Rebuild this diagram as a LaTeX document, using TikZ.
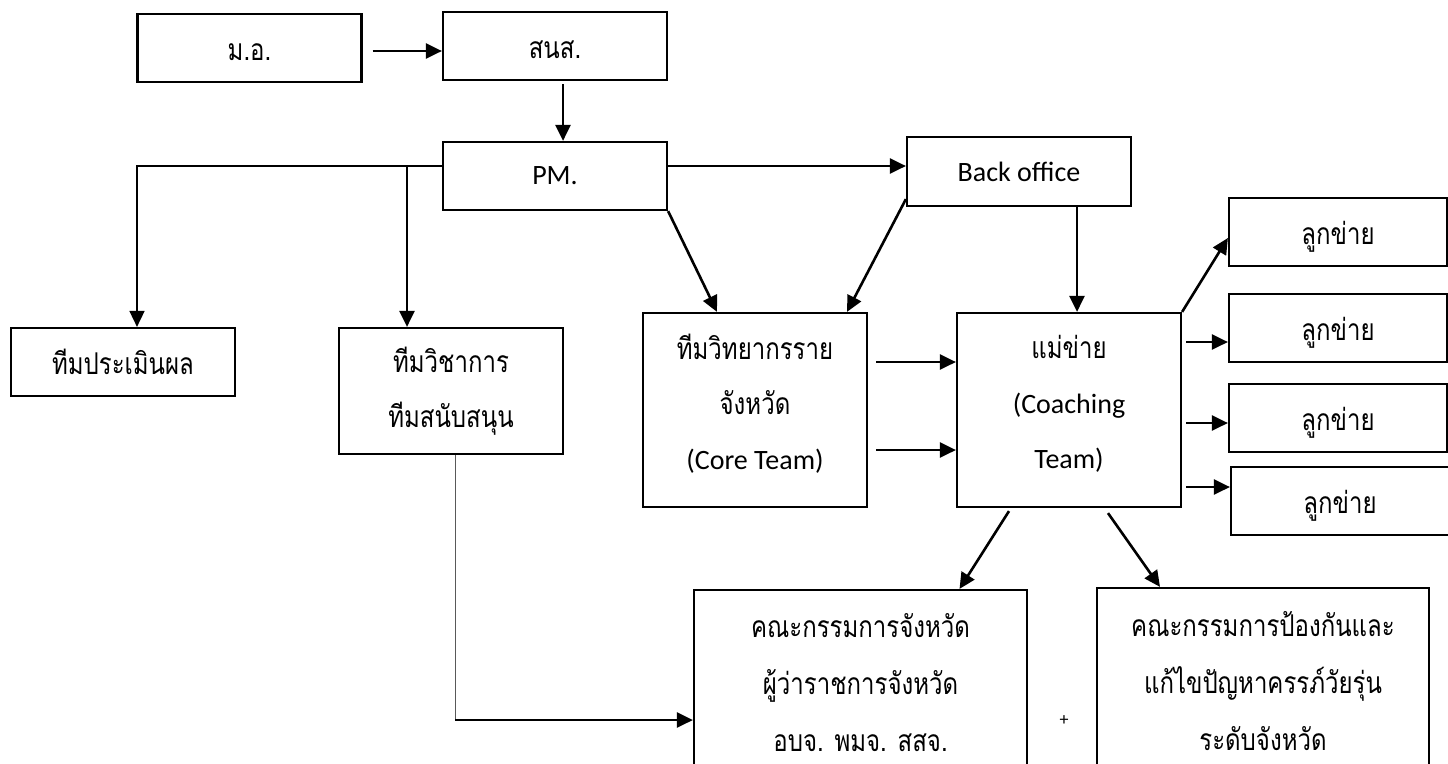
\documentclass[tikz,border=0pt]{standalone}
\usepackage{fontspec}
\setmainfont{Carlito}
\newfontfamily\thaifont[Script=Thai,FakeStretch=0.8]{Loma}
\usetikzlibrary{arrows.meta}

\begin{document}
\begin{tikzpicture}[x=1pt,y=-1pt,
    box/.style={draw,line width=2.2pt,minimum width=224pt,minimum height=68pt,inner sep=0pt,align=center,font=\fontsize{28}{55}\selectfont},
    thai/.style={font=\thaifont\fontsize{30}{55}\selectfont},
    thaione/.style={thai,text height=26pt,text depth=2pt},
    arr/.style={-{Triangle[length=16pt,width=15pt]},line width=2.6pt}]
        \useasboundingbox (0,0) rectangle (1448,763);
        \node[box,thaione] (mo) at (249.5,48) {ม.อ.};
        \node[box,thaione] (sns) at (555,46) {สนส.};
        \node[box] (pm) at (555,176) {PM.};
        \node[box,minimum height=69pt] (back) at (1019,171.5) {Back office};
        \node[box,thaione] (eval) at (123,362) {ทีมประเมินผล};
        \node[box,thai,minimum height=126pt] (acad) at (451,391) {ทีมวิชาการ\\ทีมสนับสนุน};
        \node[box,minimum height=194pt] (core) at (755,410) {{\thaifont\fontsize{30}{55}\selectfont ทีมวิทยากรราย}\\{\thaifont\fontsize{30}{55}\selectfont จังหวัด}\\(Core Team)\rule[-17pt]{0pt}{1pt}};
        \node[box,minimum height=194pt] (coach) at (1069,410) {{\thaifont\fontsize{30}{55}\selectfont แม่ข่าย}\\(Coaching\\Team)\rule[-17pt]{0pt}{1pt}};
        \node[box,thaione,minimum width=218pt] (sub1) at (1338,232) {ลูกข่าย};
        \node[box,thaione,minimum width=218pt] (sub2) at (1338,328) {ลูกข่าย};
        \node[box,thaione,minimum width=218pt] (sub3) at (1338,418) {ลูกข่าย};
        \node[box,thaione,minimum width=218pt] (sub4) at (1340,501) {ลูกข่าย};
        \node[box,minimum width=333pt,minimum height=186pt,font=\thaifont\fontsize{30}{57}\selectfont] (prov) at (860.5,683) {คณะกรรมการจังหวัด\\ผู้ว่าราชการจังหวัด\\อบจ. พมจ. สสจ.};
        \node[box,minimum width=332pt,minimum height=186pt,font=\thaifont\fontsize{30}{57}\selectfont] (prev) at (1263,681) {คณะกรรมการป้องกันและ\\แก้ไขปัญหาครรภ์วัยรุ่น\\ระดับจังหวัด};
        \node[font=\fontsize{18}{20}\selectfont] (plus) at (1064,721) {+};
        \draw[arr] ([xshift=10pt,yshift=-3pt]mo.east) -- ([yshift=-5pt]sns.west);
        \draw[arr] ([xshift=8pt,yshift=-3pt]sns.south) -- ([xshift=8pt]pm.north);
        \coordinate (split) at (407,166);
        \draw[arr,line width=1.7pt] ([yshift=10pt]pm.west) -| ([xshift=14pt]eval.north);
        \draw[arr] (split) -- (split |- acad.north);
        \draw[arr] ([yshift=10pt]pm.east) -- ([yshift=5.5pt]back.west);
        \draw[arr] (pm.south east) -- ([xshift=-38pt]core.north);
        \draw[arr] ([yshift=8pt]back.south west) -- ([xshift=92pt]core.north);
        \draw[arr] ([xshift=58pt]back.south) -- ([xshift=8pt]coach.north);
        \draw[arr] ([xshift=8pt,yshift=48pt]core.east) -- ([yshift=48pt]coach.west);
        \draw[arr] ([xshift=8pt,yshift=-40pt]core.east) -- ([yshift=-40pt]coach.west);
        \draw[arr] (coach.north east) -- ([yshift=-6pt]sub1.west);
        \draw[arr] ([xshift=4pt,yshift=68pt]coach.east) -- ([yshift=-14pt]sub2.west);
        \draw[arr] ([xshift=4pt,yshift=-13pt]coach.east) -- ([yshift=-5pt]sub3.west);
        \draw[arr] ([xshift=4pt,yshift=-77pt]coach.east) -- ([yshift=14pt]sub4.west);
        \draw[arr] ([xshift=-60pt,yshift=-3pt]coach.south) -- ([xshift=99pt]prov.north);
        \draw[arr] ([xshift=39pt,yshift=-5pt]coach.south) -- ([xshift=-103pt]prev.north);
        \coordinate (bend) at (455,720);
        \draw[gray!70!black,line width=1pt] ([xshift=4pt]acad.south) -- (bend);
        \draw[arr] (bend) -- (prov.west |- bend);
      \end{tikzpicture}
\end{document}
